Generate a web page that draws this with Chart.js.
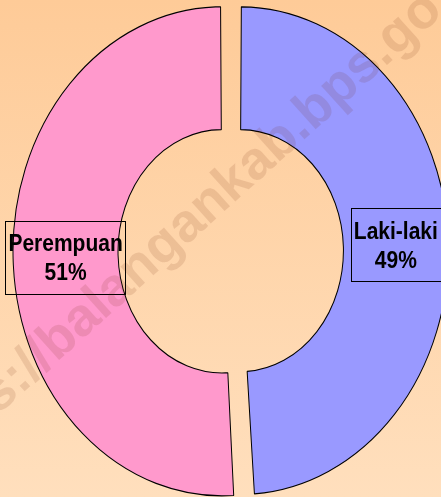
<!DOCTYPE html>
<html>
<head>
<meta charset="utf-8">
<script src="https://cdn.jsdelivr.net/npm/chart.js@4"></script>
<style>
  html, body { margin: 0; padding: 0; }
  #wrap {
    width: 441px;
    height: 497px;
    position: relative;
    background: linear-gradient(#fecb98, #ffdfbd);
  }
</style>
</head>
<body>
<div id="wrap"><canvas id="myChart"></canvas></div>
<script>
const categories = ['Laki-laki', 'Perempuan'];
const shares = [49, 51];
const sliceColors = ['#9999ff', '#ff99cc'];

// excel stretched the ring vertically
const STRETCH_Y = 1.17;
const watermark = 'https://balangankab.bps.go.id';

const stretchPlugin = {
  id: 'stretch',
  beforeDatasetsDraw(chart) {
    const arc = chart.getDatasetMeta(0).data[0];
    const ctx = chart.ctx;
    ctx.save();
    ctx.translate(arc.x, arc.y);
    ctx.scale(1, STRETCH_Y);
    ctx.translate(-arc.x, -arc.y);
  },
  afterDatasetsDraw(chart) {
    chart.ctx.restore();
  },
};

const labelPlugin = {
  id: 'boxLabels',
  afterDraw(chart) {
    const ctx = chart.ctx;
    const meta = chart.getDatasetMeta(0);
    const total = shares.reduce((a, b) => a + b, 0);
    ctx.save();
    ctx.font = "bold 21px 'Liberation Sans', Arial, sans-serif";
    ctx.textAlign = 'center';
    ctx.textBaseline = 'alphabetic';
    meta.data.forEach((arc, i) => {
      const mid = (arc.startAngle + arc.endAngle) / 2;
      // chart.js pushes arcs out by offset / 4 and also grows the radii a bit
      const off = arc.options.offset / 4;
      const grow = off * (1 - Math.sin(Math.min(Math.PI, arc.circumference)));
      const r = (arc.innerRadius + arc.outerRadius) / 2 + grow + off;
      const x = arc.x + Math.cos(mid) * r;
      const y = arc.y + Math.sin(mid) * r * STRETCH_Y;
      const lines = [categories[i], Math.round((shares[i] / total) * 100) + '%'];
      const w = Math.max(...lines.map((l) => ctx.measureText(l).width)) + 6;
      const h = 73;
      ctx.strokeStyle = '#000';
      ctx.lineWidth = 1;
      ctx.strokeRect(Math.round(x - w / 2) + 0.5, Math.round(y - h / 2) + 0.5, Math.round(w), h);
      ctx.fillStyle = '#000';
      lines.forEach((l, k) => {
        ctx.save();
        ctx.translate(x, y - 6 + k * 29);
        ctx.scale(1, 1.12);
        ctx.fillText(l, 0, 0);
        ctx.restore();
      });
    });
    ctx.restore();

    // site watermark across the picture
    ctx.save();
    ctx.translate(197, 216);
    ctx.rotate((-42 * Math.PI) / 180);
    ctx.font = "bold 54px 'Liberation Sans', Arial, sans-serif";
    ctx.textAlign = 'center';
    ctx.textBaseline = 'middle';
    ctx.fillStyle = 'rgba(110, 30, 0, 0.12)';
    ctx.fillText(watermark, 0, 0);
    ctx.restore();
  },
};

new Chart(document.getElementById('myChart').getContext('2d'), {
  type: 'doughnut',
  data: {
    labels: categories,
    datasets: [{
      data: shares,
      backgroundColor: sliceColors,
      borderColor: '#000',
      borderWidth: 1,
      offset: 36,
      hoverOffset: 0,
      clip: false,
    }],
  },
  options: {
    responsive: true,
    maintainAspectRatio: false,
    animation: false,
    radius: 200,
    cutout: '47.5%',
    layout: { padding: { left: 21, top: 5, right: 0, bottom: 0 } },
    plugins: {
      legend: { display: false },
      tooltip: { enabled: false },
    },
  },
  plugins: [stretchPlugin, labelPlugin],
});
</script>
</body>
</html>
